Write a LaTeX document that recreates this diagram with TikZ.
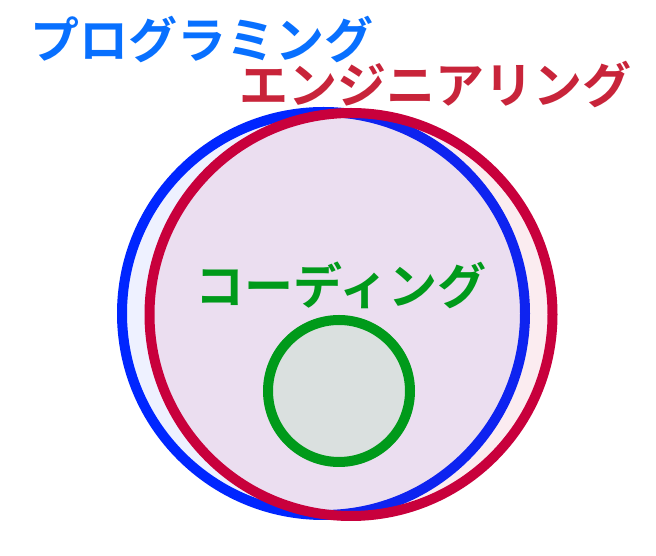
\documentclass[tikz,border=0pt]{standalone}
\usepackage{fontspec}
\setmainfont{Noto Sans CJK JP}[BoldFont={Noto Sans CJK JP Bold}]
\usetikzlibrary{positioning}

\definecolor{progblue}{HTML}{0026FF}
\definecolor{progtext}{HTML}{0870FF}
\definecolor{engred}{HTML}{C8003C}
\definecolor{engtext}{HTML}{C8243A}
\definecolor{codgreen}{HTML}{009A1A}
\definecolor{codfill}{HTML}{DAE0DF}

\tikzset{
    setcircle/.style={circle, inner sep=0pt, line width=10pt},
    setlabel/.style={font=\fontsize{49}{49}\selectfont\bfseries, inner sep=0pt}
}

\begin{document}
\begin{tikzpicture}[x=1pt, y=1pt]
    \useasboundingbox (0,0) rectangle (656,556);
    \node[setcircle, minimum size=403pt, draw=progblue, fill=progblue, fill opacity=0.065, draw opacity=1] (prog) at (323.5,242.5) {};
    \node[setcircle, minimum size=403pt, draw=engred, fill=engred, fill opacity=0.075, draw opacity=1] (eng) at (351,241.5) {};
    \node[setcircle, minimum size=142pt, draw=codgreen, fill=codfill] (cod) at (339,165) {};
    \node[setlabel, text=progtext] (proglabel) at (202,516) {プログラミング};
    \node[setlabel, text=engtext] (englabel) at (435,471) {エンジニアリング};
    \node[setlabel, text=codgreen] (codlabel) at (341,271) {コーディング};
\end{tikzpicture}
\end{document}
